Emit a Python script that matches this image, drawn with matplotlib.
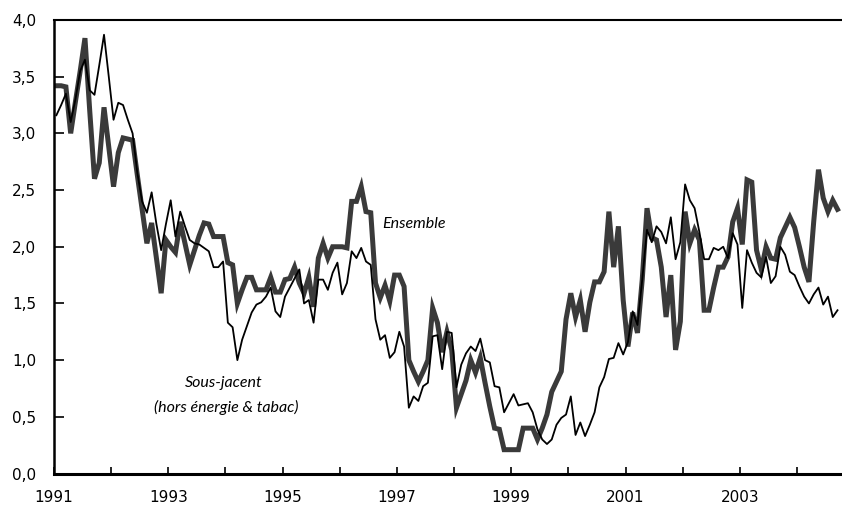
import matplotlib
matplotlib.use('Agg')
import matplotlib.pyplot as plt
import numpy as np

# Glissement annuel de l'IPC (%), mensuel de janvier 1991 a septembre 2004
ensemble = [
    3.42, 3.42, 3.41, 3.00, 3.28, 3.55, 3.84, 3.20, 2.60, 2.74, 3.23, 2.88,   # 1991
    2.53, 2.83, 2.96, 2.95, 2.94, 2.63, 2.33, 2.03, 2.21, 1.90, 1.59, 2.06,   # 1992
    2.00, 1.95, 2.22, 2.03, 1.84, 1.97, 2.10, 2.21, 2.20, 2.09, 2.09, 2.09,   # 1993
    1.86, 1.84, 1.50, 1.62, 1.73, 1.73, 1.62, 1.62, 1.62, 1.73, 1.60, 1.60,   # 1994
    1.71, 1.72, 1.82, 1.68, 1.59, 1.73, 1.47, 1.90, 2.03, 1.90, 2.00, 2.00,   # 1995
    2.00, 1.99, 2.40, 2.40, 2.53, 2.31, 2.30, 1.68, 1.55, 1.66, 1.52, 1.75,   # 1996
    1.75, 1.65, 1.00, 0.90, 0.81, 0.90, 1.00, 1.46, 1.33, 1.07, 1.25, 1.09,   # 1997
    0.58, 0.70, 0.82, 1.00, 0.89, 1.02, 0.80, 0.59, 0.40, 0.39, 0.21, 0.21,   # 1998
    0.21, 0.21, 0.40, 0.40, 0.40, 0.30, 0.40, 0.52, 0.72, 0.81, 0.90, 1.36,   # 1999
    1.59, 1.38, 1.53, 1.25, 1.51, 1.69, 1.69, 1.78, 2.31, 1.82, 2.18, 1.53,   # 2000
    1.12, 1.42, 1.24, 1.71, 2.34, 2.08, 2.06, 1.82, 1.38, 1.75, 1.09, 1.34,   # 2001
    2.31, 2.03, 2.15, 2.06, 1.44, 1.44, 1.64, 1.82, 1.82, 1.91, 2.22, 2.34,   # 2002
    2.02, 2.59, 2.57, 1.97, 1.80, 2.00, 1.90, 1.89, 2.08, 2.17, 2.26, 2.17,   # 2003
    2.00, 1.82, 1.69, 2.22, 2.68, 2.43, 2.31, 2.41, 2.33,                     # 2004
]
sous_jacent = [
    3.16, 3.25, 3.35, 3.10, 3.30, 3.55, 3.65, 3.38, 3.34, 3.60, 3.87, 3.50,   # 1991
    3.12, 3.27, 3.25, 3.12, 3.00, 2.65, 2.40, 2.30, 2.48, 2.20, 1.97, 2.20,   # 1992
    2.41, 2.09, 2.31, 2.18, 2.06, 2.03, 2.02, 1.99, 1.96, 1.82, 1.82, 1.87,   # 1993
    1.33, 1.29, 1.00, 1.18, 1.30, 1.42, 1.49, 1.51, 1.56, 1.64, 1.43, 1.38,   # 1994
    1.56, 1.64, 1.72, 1.80, 1.50, 1.53, 1.33, 1.71, 1.71, 1.62, 1.77, 1.86,   # 1995
    1.58, 1.68, 1.96, 1.90, 1.99, 1.87, 1.84, 1.36, 1.18, 1.22, 1.02, 1.07,   # 1996
    1.25, 1.12, 0.58, 0.68, 0.64, 0.77, 0.80, 1.21, 1.22, 0.92, 1.25, 1.24,   # 1997
    0.76, 0.96, 1.06, 1.12, 1.08, 1.19, 1.00, 0.98, 0.77, 0.76, 0.54, 0.62,   # 1998
    0.70, 0.60, 0.61, 0.62, 0.54, 0.39, 0.30, 0.26, 0.30, 0.43, 0.49, 0.52,   # 1999
    0.68, 0.34, 0.45, 0.33, 0.43, 0.54, 0.76, 0.85, 1.01, 1.02, 1.15, 1.05,   # 2000
    1.16, 1.43, 1.31, 1.71, 2.15, 2.04, 2.18, 2.13, 2.03, 2.26, 1.89, 2.04,   # 2001
    2.55, 2.41, 2.34, 2.13, 1.89, 1.89, 1.99, 1.97, 2.00, 1.90, 2.12, 2.02,   # 2002
    1.46, 1.97, 1.86, 1.77, 1.73, 1.91, 1.68, 1.74, 2.00, 1.93, 1.78, 1.75,   # 2003
    1.65, 1.56, 1.50, 1.58, 1.64, 1.49, 1.56, 1.38, 1.44,                     # 2004
]
start_year = 1991
year_ticks = list(range(1991, 2005))
year_labels = [str(y) if (y - 1991) % 2 == 0 else '' for y in year_ticks]
y_ticks = [0.0, 0.5, 1.0, 1.5, 2.0, 2.5, 3.0, 3.5, 4.0]

# mois centres dans leur categorie (axe de type Excel)
months = np.arange(len(ensemble)) + 0.5

fig = plt.figure(figsize=(8.42, 5.09), dpi=100)
ax = fig.add_axes([54 / 842, 1 - 473.5 / 509, 1 - 54 / 842, 453.5 / 509])

ax.plot(months, ensemble, color='#3a3a3a', lw=3.6, solid_joinstyle='miter', zorder=2)
ax.plot(months, sous_jacent, color='black', lw=1.3, zorder=3)

ax.set_xlim(0, (842 - 54) / 4.763)
ax.set_ylim(0, 4)

ax.set_xticks([(y - start_year) * 12 for y in year_ticks])
ax.set_xticklabels(year_labels)
ax.set_yticks(y_ticks)
ax.set_yticklabels([f'{v:.1f}'.replace('.', ',') for v in y_ticks])

ax.tick_params(axis='x', direction='in', length=5, width=1.2, pad=12, labelsize=11)
ax.tick_params(axis='y', direction='in', length=7, width=1.2, pad=13, labelsize=11)

ax.spines['right'].set_visible(False)
ax.spines['bottom'].set_linewidth(2.2)
ax.spines['left'].set_linewidth(1.8)
ax.spines['top'].set_linewidth(1.5)

ax.text(68.9, 2.2, 'Ensemble', style='italic', family='Lato', fontsize=11.5,
        ha='left', va='center')
ax.text((224 - 54) / 4.763, (474 - 383) / 113.5, 'Sous-jacent', style='italic',
        family='Lato', fontsize=11.5, ha='center', va='center')
ax.text((226 - 54) / 4.763, (474 - 408) / 113.5, '(hors énergie & tabac)',
        style='italic', family='Lato', fontsize=11.5, ha='center', va='center')

fig.savefig('out.png', dpi=100)
